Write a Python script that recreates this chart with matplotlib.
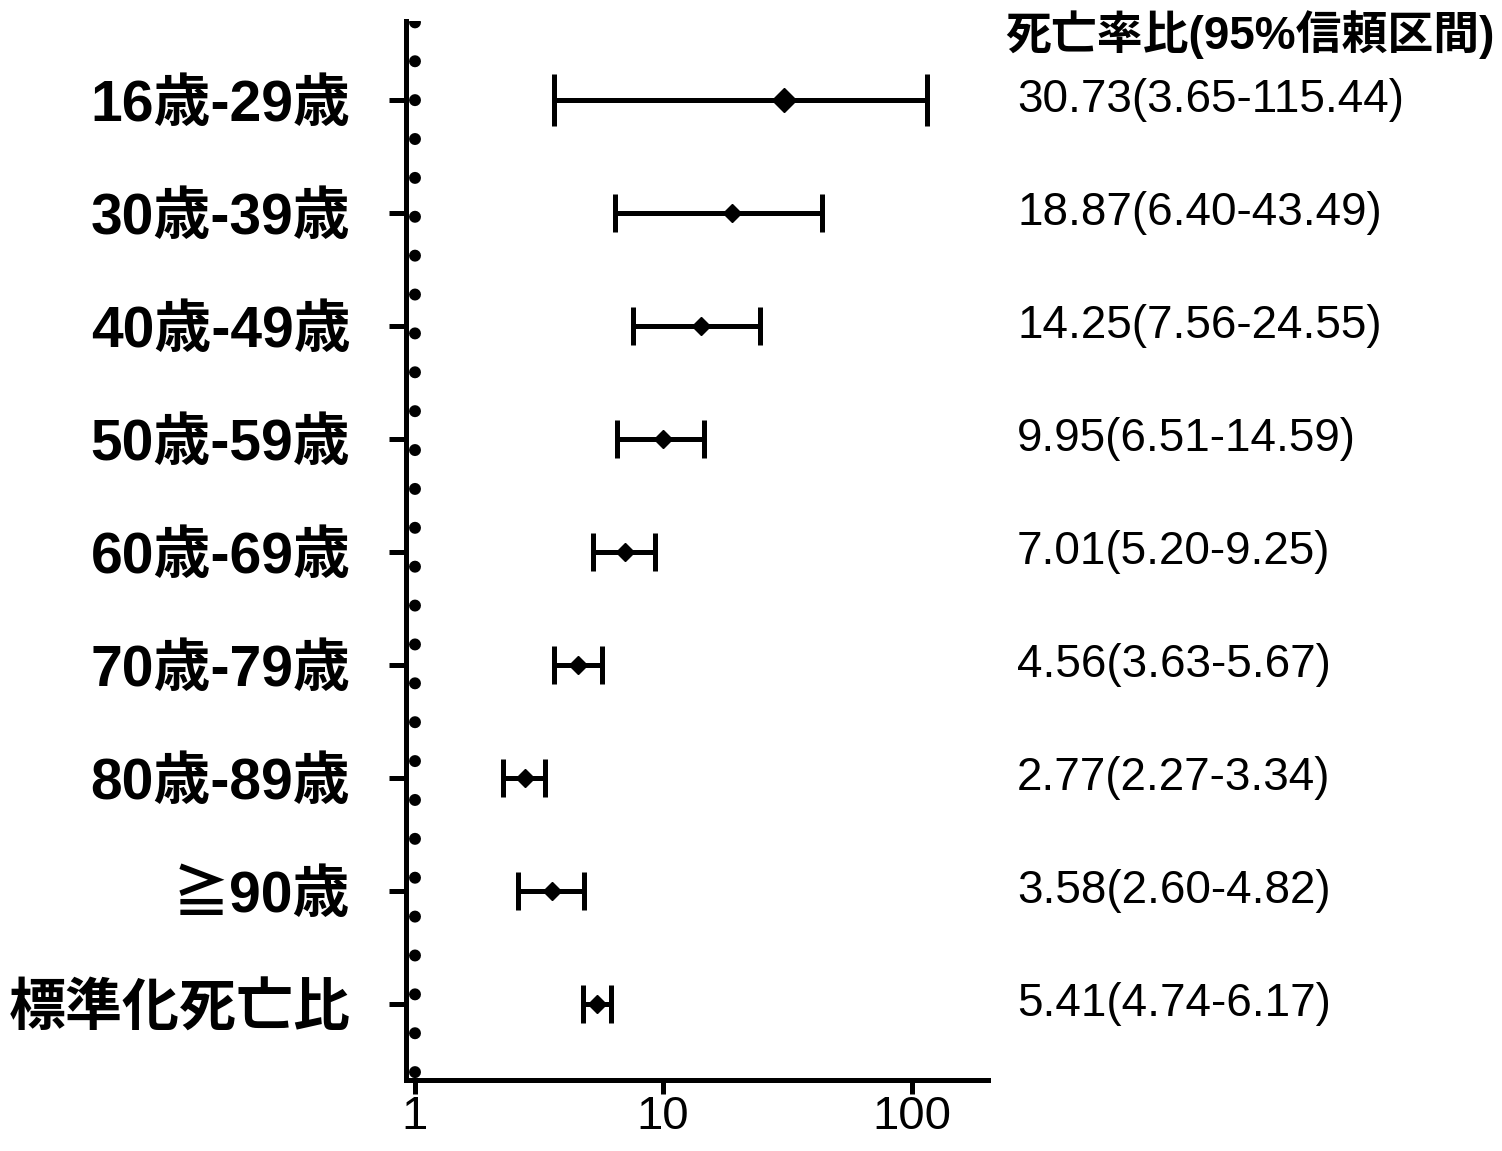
import matplotlib
matplotlib.use("Agg")
import matplotlib.pyplot as plt

# データ
groups = ["16歳-29歳", "30歳-39歳", "40歳-49歳", "50歳-59歳", "60歳-69歳",
          "70歳-79歳", "80歳-89歳", "≧90歳", "標準化死亡比"]
ratio = [30.73, 18.87, 14.25, 9.95, 7.01, 4.56, 2.77, 3.58, 5.41]
lower = [3.65, 6.40, 7.56, 6.51, 5.20, 3.63, 2.27, 2.60, 4.74]
upper = [115.44, 43.49, 24.55, 14.59, 9.25, 5.67, 3.34, 4.82, 6.17]
header = "死亡率比(95%信頼区間)"
x_ticks = [1, 10, 100]

fam = ["Liberation Sans", "Noto Sans CJK JP"]

fig = plt.figure(figsize=(15.02, 11.51), dpi=100)
ax = fig.add_axes([406 / 1502, 1 - 1080 / 1151, (988 - 406) / 1502, (1080 - 21) / 1151])

ax.set_xscale("log")
ax.set_xlim(0.923, 203)
ax.set_ylim(8.67, -0.70)

# x=1 の点線
ax.axvline(1, color="black", lw=8.6, linestyle=(2.6, (0.01, 3.245)),
           dash_capstyle="round", zorder=1)

for i in range(len(groups)):
    big = i == 0
    ax.errorbar(ratio[i], i, xerr=[[ratio[i] - lower[i]], [upper[i] - ratio[i]]],
                fmt="D", color="black", ms=12 if big else 9.2, elinewidth=3.6,
                capsize=19 if big else 14, capthick=3.6, zorder=3)
    txt = "%.2f(%.2f-%.2f)" % (ratio[i], lower[i], upper[i])
    ax.text(1.05, i, txt, transform=ax.get_yaxis_transform(), va="center", ha="left",
            fontsize=33, family=fam)

ax.text(1.029, -0.58, header, transform=ax.get_yaxis_transform(), va="center", ha="left",
        fontsize=33, fontweight="bold", family=fam)

ax.set_yticks(range(len(groups)))
ax.set_yticklabels(groups, fontsize=41, fontweight="bold", family=fam)
ax.set_xticks(x_ticks)
ax.set_xticklabels([str(t) for t in x_ticks], fontsize=34, family=fam)
ax.minorticks_off()

for s in ["top", "right"]:
    ax.spines[s].set_visible(False)
for s in ["left", "bottom"]:
    ax.spines[s].set_linewidth(3.6)
ax.tick_params(axis="y", length=12, width=3.6, pad=28)
ax.tick_params(axis="x", length=10, width=3.6, pad=1)

fig.savefig("out.png", dpi=100)
